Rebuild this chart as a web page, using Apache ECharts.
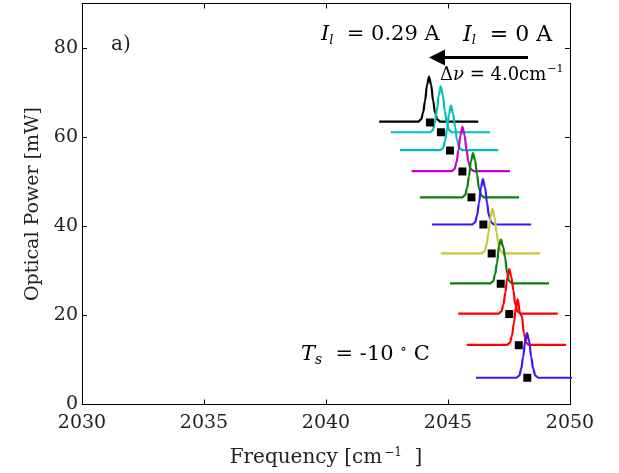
<!DOCTYPE html>
<html>
<head>
<meta charset="utf-8">
<script src="https://cdn.jsdelivr.net/npm/echarts@6/dist/echarts.min.js"></script>
<style>
html,body{margin:0;padding:0;background:#fff;}
#chart{width:619px;height:473px;}
</style>
</head>
<body>
<div id="chart"></div>
<script>
// ---- Data ----
const xTicks = [2030, 2035, 2040, 2045, 2050];
const yTicks = [0, 20, 40, 60, 80];

// Spectra (frequency in cm^-1, offset by optical power in mW), top (I_l = 0.29 A) to bottom (I_l = 0 A)
const traceFreq1 = [2042.18, 2043.78, 2043.90, 2043.98, 2044.06, 2044.14, 2044.22, 2044.31, 2044.39, 2044.47, 2044.56, 2044.68, 2046.24];
const tracePow1  = [63.5, 63.5, 64.0, 65.5, 68.2, 71.7, 73.6, 71.7, 68.2, 65.5, 64.0, 63.5, 63.5];
const traceFreq2 = [2042.65, 2044.26, 2044.38, 2044.46, 2044.54, 2044.62, 2044.70, 2044.79, 2044.87, 2044.95, 2045.04, 2045.16, 2046.72];
const tracePow2  = [61.1, 61.1, 61.6, 63.2, 65.9, 69.4, 71.4, 69.4, 65.9, 63.2, 61.6, 61.1, 61.1];
const traceFreq3 = [2043.03, 2044.68, 2044.80, 2044.88, 2044.96, 2045.04, 2045.12, 2045.21, 2045.29, 2045.37, 2045.46, 2045.58, 2047.06];
const tracePow3  = [57.1, 57.1, 57.6, 59.1, 61.8, 65.2, 67.1, 65.2, 62.3, 59.4, 57.6, 57.1, 57.1];
const traceFreq4 = [2043.51, 2045.15, 2045.27, 2045.35, 2045.43, 2045.51, 2045.59, 2045.68, 2045.76, 2045.84, 2045.93, 2046.05, 2047.54];
const tracePow4  = [52.4, 52.4, 52.9, 54.4, 57.1, 60.4, 62.3, 60.4, 57.1, 54.4, 52.9, 52.4, 52.4];
const traceFreq5 = [2043.85, 2045.58, 2045.70, 2045.78, 2045.86, 2045.94, 2046.02, 2046.11, 2046.19, 2046.27, 2046.36, 2046.48, 2047.91];
const tracePow5  = [46.5, 46.5, 47.0, 48.5, 51.2, 54.5, 56.4, 54.8, 51.6, 48.5, 47.0, 46.5, 46.5];
const traceFreq6 = [2044.34, 2045.99, 2046.11, 2046.19, 2046.27, 2046.35, 2046.43, 2046.52, 2046.60, 2046.68, 2046.77, 2046.89, 2048.41];
const tracePow6  = [40.4, 40.4, 40.9, 42.4, 45.2, 48.7, 50.6, 48.7, 45.2, 42.4, 40.9, 40.4, 40.4];
const traceFreq7 = [2044.70, 2046.38, 2046.50, 2046.58, 2046.66, 2046.74, 2046.82, 2046.91, 2046.99, 2047.07, 2047.16, 2047.28, 2048.77];
const tracePow7  = [33.9, 33.9, 34.4, 35.9, 38.6, 42.0, 43.9, 42.0, 38.6, 35.9, 34.4, 33.9, 33.9];
const traceFreq8 = [2045.08, 2046.73, 2046.85, 2046.93, 2047.01, 2047.09, 2047.17, 2047.26, 2047.34, 2047.42, 2047.51, 2047.63, 2049.14];
const tracePow8  = [27.2, 27.2, 27.7, 29.2, 31.8, 35.6, 37.0, 35.4, 33.0, 29.6, 27.7, 27.2, 27.2];
const traceFreq9 = [2045.42, 2047.07, 2047.19, 2047.27, 2047.35, 2047.43, 2047.51, 2047.60, 2047.68, 2047.76, 2047.85, 2047.97, 2049.50];
const tracePow9  = [20.4, 20.4, 20.9, 22.4, 25.1, 28.5, 30.4, 28.5, 25.6, 22.4, 20.9, 20.4, 20.4];
const traceFreq10 = [2045.77, 2047.42, 2047.54, 2047.62, 2047.70, 2047.78, 2047.86, 2047.95, 2048.03, 2048.11, 2048.20, 2048.32, 2049.84];
const tracePow10  = [13.4, 13.4, 13.9, 15.4, 18.2, 21.7, 23.6, 20.5, 19.8, 16.0, 13.9, 13.4, 13.4];
const traceFreq11 = [2046.15, 2047.80, 2047.92, 2048.00, 2048.08, 2048.16, 2048.24, 2048.33, 2048.41, 2048.49, 2048.58, 2048.70, 2050.30];
const tracePow11  = [6.0, 6.0, 6.5, 8.0, 10.7, 14.1, 16.0, 14.1, 10.7, 8.0, 6.5, 6.0, 6.0];

// Operating points (black squares)
const markerFreq  = [2044.26, 2044.71, 2045.08, 2045.59, 2045.96, 2046.45, 2046.79, 2047.16, 2047.51, 2047.90, 2048.25];
const markerPower = [63.3, 61.1, 57.0, 52.3, 46.5, 40.4, 33.9, 27.1, 20.3, 13.3, 6.0];

// ---- Styling ----
const traceFreqs = [traceFreq1, traceFreq2, traceFreq3, traceFreq4, traceFreq5, traceFreq6, traceFreq7, traceFreq8, traceFreq9, traceFreq10, traceFreq11];
const tracePows  = [tracePow1, tracePow2, tracePow3, tracePow4, tracePow5, tracePow6, tracePow7, tracePow8, tracePow9, tracePow10, tracePow11];
const traceColors = ['#000000', '#00bfbf', '#00bfbf', '#c800c8', '#0a800a', '#3c14ff', '#c8c832', '#0a800a', '#ff0000', '#ff0000', '#3c14ff'];

const FONT = 'DejaVu Serif';
const TXT = '#222';
const chart = echarts.init(document.getElementById('chart'), null, {renderer: 'canvas'});

const series = traceFreqs.map((fs, i) => ({
  type: 'line',
  data: fs.map((f, j) => [f, tracePows[i][j]]),
  showSymbol: false,
  smooth: 0.35,
  smoothMonotone: 'x',
  lineStyle: {color: traceColors[i], width: 2.2},
  itemStyle: {color: traceColors[i]},
  emphasis: {disabled: true},
  z: 2 + i,
  animation: false,
  clip: true
}));
series.push({
  type: 'scatter',
  data: markerFreq.map((f, j) => [f, markerPower[j]]),
  symbol: 'rect',
  symbolSize: 8,
  itemStyle: {color: '#000', opacity: 1},
  emphasis: {disabled: true},
  z: 20,
  animation: false
});

const axisCommon = {
  type: 'value',
  axisLine: {show: true, onZero: false, lineStyle: {color: '#000', width: 1}},
  axisTick: {show: true, inside: true, length: 5, lineStyle: {color: '#000'}},
  splitLine: {show: false}
};

const mathRich = (fs, subFs) => ({
  i: {fontFamily: FONT, fontStyle: 'italic', fontSize: fs, color: TXT},
  sb: {fontFamily: FONT, fontStyle: 'italic', fontSize: subFs, color: TXT, padding: [11, 0, 0, 0]},
  n: {fontFamily: FONT, fontSize: fs, color: TXT},
  s: {fontFamily: FONT, fontSize: subFs, color: TXT, padding: [0, 0, 11, 0]}
});

chart.setOption({
  backgroundColor: '#fff',
  animation: false,
  grid: {left: 82, right: 49, top: 3.5, bottom: 65.5},
  xAxis: [
    Object.assign({}, axisCommon, {
      position: 'bottom', min: xTicks[0], max: xTicks[xTicks.length - 1], interval: 5,
      axisLabel: {fontFamily: FONT, fontSize: 19, color: TXT, margin: 9, formatter: v => String(v)},
      name: '{a|Frequency [cm}{s|−1}{a|  ]}',
      nameLocation: 'middle', nameGap: 42,
      nameTextStyle: {rich: {a: {fontFamily: FONT, fontSize: 20, color: TXT}, s: {fontFamily: FONT, fontSize: 12, color: TXT, padding: [0, 0, 11, 2]}}}
    }),
    Object.assign({}, axisCommon, {
      position: 'top', min: xTicks[0], max: xTicks[xTicks.length - 1], interval: 5,
      axisLabel: {show: false}
    })
  ],
  yAxis: [
    Object.assign({}, axisCommon, {
      position: 'left', min: yTicks[0], max: 90, interval: 20,
      axisLabel: {fontFamily: FONT, fontSize: 19, color: TXT, margin: 4, showMaxLabel: false},
      name: 'Optical Power [mW]',
      nameLocation: 'middle', nameGap: 38,
      nameTextStyle: {fontFamily: FONT, fontSize: 19, color: TXT}
    }),
    Object.assign({}, axisCommon, {
      position: 'right', min: yTicks[0], max: 90, interval: 20,
      axisLabel: {show: false}
    })
  ],
  series: series,
  graphic: [
    {type: 'text', left: 111, top: 35, z: 50, style: {text: 'a)', font: '20px "DejaVu Serif"', fill: TXT}},
    {type: 'text', x: 321, y: 35, z: 50, style: {
      text: '{i|I}{sb|l}{n|  = 0.29 A}', verticalAlign: 'middle', rich: mathRich(21, 13)
    }},
    {type: 'text', x: 463, y: 35, z: 50, style: {
      text: '{i|I}{sb|l}{n|  = 0 A}', verticalAlign: 'middle', rich: mathRich(22, 13)
    }},
    {type: 'line', z: 50, shape: {x1: 528, y1: 57.5, x2: 440, y2: 57.5}, style: {stroke: '#000', lineWidth: 3}},
    {type: 'polygon', z: 50, shape: {points: [[429, 57.5], [445, 49.5], [445, 65.5]]}, style: {fill: '#000'}},
    {type: 'text', x: 440, y: 75, z: 50, style: {
      text: '{n|Δ}{i|ν}{n| = 4.0cm}{s|−1}', verticalAlign: 'middle',
      rich: {n: {fontFamily: FONT, fontSize: 18, color: TXT}, i: {fontFamily: FONT, fontStyle: 'italic', fontSize: 18, color: TXT}, s: {fontFamily: FONT, fontSize: 11, color: TXT, padding: [0, 0, 11, 1]}}
    }},
    {type: 'text', x: 301, y: 355, z: 50, style: {
      text: '{i|T}{sb|s}{n|  = -10 }{s|∘}{n| C}', verticalAlign: 'middle', rich: mathRich(21, 14)
    }}
  ]
});
</script>
</body>
</html>
